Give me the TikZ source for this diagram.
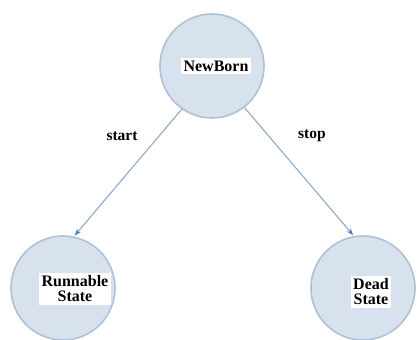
\documentclass[tikz,border=0pt]{standalone}
\usepackage{fontspec}
\setmainfont{Liberation Serif}
\usetikzlibrary{arrows.meta}
\definecolor{statefill}{HTML}{D8E2EE}
\definecolor{stateedge}{HTML}{AFC1D5}
\definecolor{edgeline}{HTML}{8FAACB}
\definecolor{edgetip}{HTML}{4A7DBD}
\begin{document}
\begin{tikzpicture}[x=1bp,y=-1bp,
  state/.style={circle,minimum size=104bp,inner sep=0pt,fill=statefill,draw=stateedge,line width=1.6bp},
  statelabel/.style={fill=white,inner sep=2.5bp,font=\fontsize{16bp}{17bp}\selectfont\bfseries,align=center},
  transition/.style={draw=edgeline,line width=1.1bp,-{Stealth[length=7bp,width=5bp,color=edgetip]},shorten >=1bp},
  translabel/.style={font=\fontsize{15.5bp}{17bp}\selectfont\bfseries}]
\useasboundingbox (0,0) rectangle (417,340);
\node[state] (newborn) at (212,66) {};
\node[state] (runnable) at (63,288) {};
\node[state] (dead) at (363,288) {};
\node[statelabel] (newbornlbl) at (216,66) {NewBorn};
\node[statelabel] (runnablelbl) at (75,289) {Runnable\\[-2bp]State};
\node[statelabel] (deadlbl) at (371,292) {Dead\\[-2bp]State};
\draw[transition] (newborn.-125) -- (runnable.78);
\draw[transition] (newborn.-52) -- (dead.100);
\node[translabel] (startlbl) at (122,136) {start};
\node[translabel] (stoplbl) at (312,136) {stop};
\end{tikzpicture}
\end{document}
